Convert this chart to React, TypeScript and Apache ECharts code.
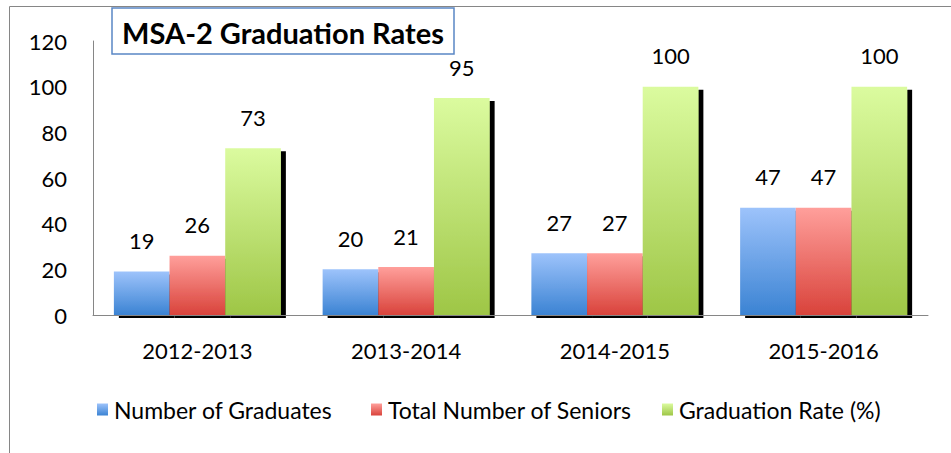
import React, { useEffect, useRef } from "react";
import * as echarts from "echarts";

const categories = ["2012-2013", "2013-2014", "2014-2015", "2015-2016"];
const graduates = [19, 20, 27, 47];
const seniors = [26, 21, 27, 47];
const gradRate = [73, 95, 100, 100];
const seriesNames = ["Number of Graduates", "Total Number of Seniors", "Graduation Rate (%)"];
const titleText = "MSA-2 Graduation Rates";

const FONT = "Lato, 'Open Sans', sans-serif";

function grad(top: string, bottom: string) {
  return new echarts.graphic.LinearGradient(0, 0, 0, 1, [
    { offset: 0, color: top },
    { offset: 1, color: bottom },
  ]);
}

export default function App() {
  const ref = useRef<HTMLDivElement>(null);
  useEffect(() => {
    document.body.style.margin = "0";
    const chart = echarts.init(ref.current!, null, { renderer: "svg" });
    const label = {
      show: true,
      position: "top",
      distance: 20,
      fontSize: 22,
      color: "#000",
      fontFamily: FONT,
    };
    const shadow = {
      shadowColor: "#000",
      shadowBlur: 0,
      shadowOffsetX: 5,
      shadowOffsetY: 3,
    };
    const colors = [
      grad("#9dc3fb", "#3b83d3"),
      grad("#ff9f9b", "#d9433b"),
      grad("#dbfb9f", "#9ec646"),
    ];
    const values = [graduates, seniors, gradRate];
    const legendLefts = [92, 366, 657];
    chart.setOption({
      animation: false,
      backgroundColor: "#fff",
      textStyle: { fontFamily: FONT },
      graphic: [
        {
          type: "rect",
          shape: { x: 9.5, y: 6.5, width: 1200, height: 1200 },
          style: { fill: "none", stroke: "#868686", lineWidth: 1 },
          silent: true,
        },
        {
          type: "rect",
          shape: { x: 112, y: 8, width: 342, height: 46 },
          style: { fill: "#fff", stroke: "#5a87c5", lineWidth: 1.5 },
          z: 10,
        },
        {
          type: "text",
          x: 283,
          y: 32,
          style: {
            text: titleText,
            fontSize: 29,
            fontWeight: "bold",
            fontFamily: FONT,
            fill: "#000",
            textAlign: "center",
            textVerticalAlign: "middle",
          },
          z: 11,
        },
      ],
      grid: { left: 93, right: 23, top: 41, bottom: 138, containLabel: false },
      legend: seriesNames.map((name, i) => ({
        left: legendLefts[i],
        top: 393,
        itemWidth: 11,
        itemHeight: 12,
        icon: "rect",
        textStyle: { fontSize: 23, color: "#000", fontFamily: FONT, padding: [0, 0, 0, 1] },
        data: [name],
      })),
      xAxis: {
        type: "category",
        data: categories,
        axisLine: { show: true, lineStyle: { color: "#868686", width: 1 } },
        axisTick: { show: false },
        axisLabel: { fontSize: 22, color: "#000", margin: 24, fontFamily: FONT },
        z: 5,
      },
      yAxis: {
        type: "value",
        min: 0,
        max: 120,
        interval: 20,
        axisLine: { show: true, lineStyle: { color: "#868686", width: 1 } },
        axisTick: { show: false },
        splitLine: { show: false },
        axisLabel: { fontSize: 22, color: "#000", margin: 26, fontFamily: FONT },
      },
      series: seriesNames.map((name, i) => ({
        name,
        type: "bar",
        data: values[i],
        barGap: "0%",
        barCategoryGap: "20%",
        itemStyle: { color: colors[i], ...shadow },
        label,
      })),
    });
    return () => chart.dispose();
  }, []);
  return <div ref={ref} style={{ width: 951, height: 453, position: "absolute", left: 0, top: 0 }} />;
}
